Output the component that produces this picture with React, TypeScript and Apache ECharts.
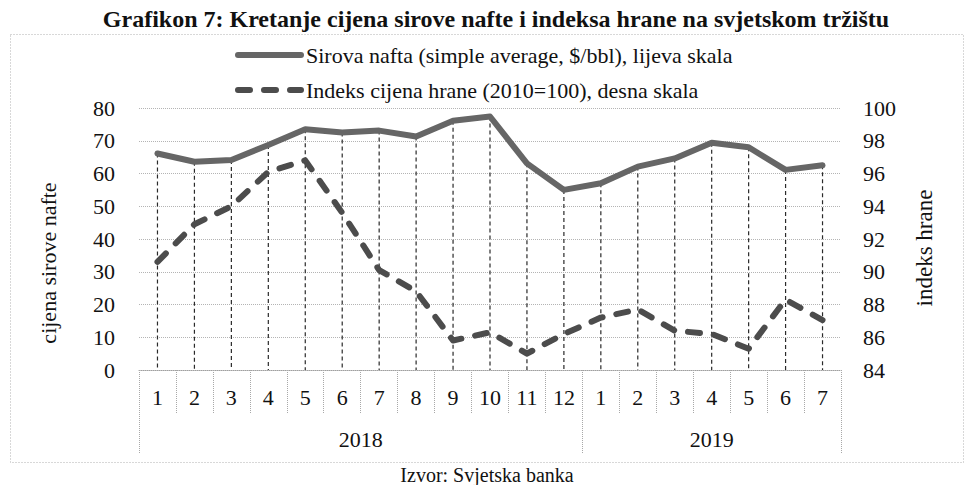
import React, { useEffect, useRef } from "react";
import * as echarts from "echarts";

const titleText = "Grafikon 7: Kretanje cijena sirove nafte i indeksa hrane na svjetskom tržištu";
const sourceText = "Izvor: Svjetska banka";
const oilName = "Sirova nafta (simple average, $/bbl), lijeva skala";
const foodName = "Indeks cijena hrane (2010=100), desna skala";
const leftAxisName = "cijena sirove nafte";
const rightAxisName = "indeks hrane";

const months = ["1", "2", "3", "4", "5", "6", "7", "8", "9", "10", "11", "12", "1", "2", "3", "4", "5", "6", "7"];
const years = ["2018", "2019"];
const yearSpans = [12, 7];

const oil = [66.1, 63.6, 64.1, 68.7, 73.5, 72.5, 73.1, 71.3, 76.1, 77.4, 63.1, 55.0, 57.0, 62.1, 64.6, 69.4, 68.0, 61.1, 62.5];
const food = [90.6, 92.9, 94.0, 96.1, 96.8, 93.6, 90.1, 88.8, 85.8, 86.3, 85.0, 86.2, 87.2, 87.7, 86.4, 86.2, 85.3, 88.3, 87.05];

const leftMin = 0, leftMax = 80, leftStep = 10;
const rightMin = 84, rightMax = 100, rightStep = 2;

const FONT = "Liberation Serif";
const OIL_COLOR = "#666666";
const FOOD_COLOR = "#4c4c4c";
const FOOD_DASH = [12, 14];

export default function App() {
  const ref = useRef<HTMLDivElement>(null);
  useEffect(() => {
    if (!ref.current) return;
    const chart = echarts.init(ref.current, null, { renderer: "svg" });

    const yearBounds: number[] = [0];
    const yearCenters: number[] = [];
    let acc = 0;
    yearSpans.forEach((s) => {
      yearCenters.push(acc + s / 2);
      acc += s;
      yearBounds.push(acc);
    });

    const txt = (size: number) => ({
      fontFamily: FONT,
      fontSize: size,
      fontWeight: "normal",
      fontStyle: "normal",
      color: "#111",
    });

    const option: any = {
      animation: false,
      backgroundColor: "#fff",
      textStyle: { fontFamily: FONT, color: "#111" },
      title: [
        {
          text: titleText,
          left: 491,
          textAlign: "center",
          top: 2,
          textStyle: { ...txt(24), fontWeight: "bold" },
        },
        {
          text: sourceText,
          left: 482,
          textAlign: "center",
          top: 460,
          textStyle: txt(20),
        },
      ],
      legend: {
        data: [
          {
            name: oilName,
            itemStyle: { opacity: 0 },
            lineStyle: { color: OIL_COLOR, width: 6, cap: "round", type: "solid" },
          },
          {
            name: foodName,
            itemStyle: { opacity: 0 },
            lineStyle: { color: FOOD_COLOR, width: 6, cap: "round", type: FOOD_DASH },
          },
        ],
        orient: "vertical",
        left: 235,
        top: 44,
        padding: 0,
        itemWidth: 63,
        itemHeight: 22,
        itemGap: 13,
        textStyle: txt(22),
      },
      grid: { left: 139, right: 125, top: 108, bottom: 115 },
      xAxis: [
        {
          type: "category",
          data: months,
          position: "bottom",
          boundaryGap: true,
          axisLine: { show: true, lineStyle: { color: "#a0a0a0", type: "dotted", width: 1 } },
          axisTick: { show: true, interval: 0, length: 43, lineStyle: { color: "#a8a8a8", type: "dotted" } },
          axisLabel: { interval: 0, ...txt(22), margin: 16 },
          splitLine: { show: false },
        },
        {
          type: "value",
          position: "bottom",
          min: 0,
          max: months.length,
          axisLine: { show: false },
          axisTick: { show: true, customValues: yearBounds, length: 84, lineStyle: { color: "#a8a8a8", type: "dotted" } },
          axisLabel: {
            customValues: yearCenters,
            formatter: (v: number) => {
              const i = yearCenters.findIndex((c) => Math.abs(c - v) < 1e-6);
              return i >= 0 ? years[i] : "";
            },
            ...txt(22),
            margin: 58,
          },
          splitLine: { show: false },
        },
      ],
      yAxis: [
        {
          type: "value",
          min: leftMin,
          max: leftMax,
          interval: leftStep,
          position: "left",
          name: leftAxisName,
          nameLocation: "middle",
          nameRotate: 90,
          nameGap: 80,
          nameTextStyle: { ...txt(22), padding: [0, 48, 0, 0] },
          axisLine: { show: false },
          axisTick: { show: false },
          axisLabel: { ...txt(22), margin: 24 },
          splitLine: { show: true, lineStyle: { color: "#b4b4b4", type: "dotted", width: 1 } },
        },
        {
          type: "value",
          min: rightMin,
          max: rightMax,
          interval: rightStep,
          position: "right",
          name: rightAxisName,
          nameLocation: "middle",
          nameRotate: 90,
          nameGap: 72,
          nameTextStyle: { ...txt(23), padding: [0, 18, 0, 0] },
          axisLine: { show: false },
          axisTick: { show: false },
          axisLabel: { ...txt(22), margin: 22 },
          splitLine: { show: false },
        },
      ],
      series: [
        {
          type: "custom",
          name: "drop",
          xAxisIndex: 0,
          yAxisIndex: 0,
          z: 1,
          silent: true,
          data: oil.map((v, i) => [i, v]),
          renderItem: (params: any, api: any) => {
            const top = api.coord([api.value(0), api.value(1)]);
            const bottom = api.coord([api.value(0), leftMin]);
            return {
              type: "line",
              shape: { x1: top[0], y1: top[1], x2: bottom[0], y2: bottom[1] },
              style: { stroke: "#2a2a2a", lineWidth: 1.2, lineDash: [4, 3] },
            };
          },
        },
        {
          type: "line",
          name: oilName,
          xAxisIndex: 0,
          yAxisIndex: 0,
          data: oil,
          symbol: "none",
          z: 3,
          lineStyle: { color: OIL_COLOR, width: 6, cap: "round", join: "round" },
          itemStyle: { color: OIL_COLOR },
        },
        {
          type: "line",
          name: foodName,
          xAxisIndex: 0,
          yAxisIndex: 1,
          data: food,
          symbol: "none",
          z: 3,
          lineStyle: { color: FOOD_COLOR, width: 6, type: FOOD_DASH, cap: "round", join: "round" },
          itemStyle: { color: FOOD_COLOR },
        },
      ],
      graphic: [
        {
          type: "rect",
          left: 8,
          top: 32,
          shape: { width: 953, height: 428 },
          style: { fill: "none", stroke: "#b0b0b0", lineWidth: 1, lineDash: [1, 2] },
          silent: true,
          z: -1,
        },
      ],
    };

    chart.setOption(option);
    return () => chart.dispose();
  }, []);

  return (
    <div
      ref={ref}
      style={{ position: "fixed", left: 0, top: 0, width: 966, height: 485, background: "#fff" }}
    />
  );
}
